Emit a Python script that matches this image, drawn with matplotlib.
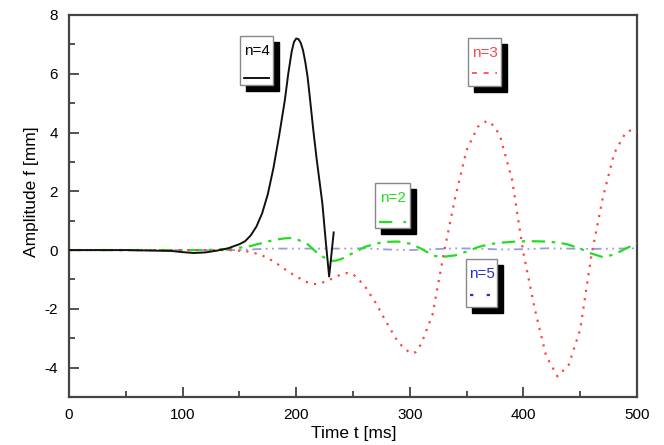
import matplotlib
matplotlib.use("Agg")
import matplotlib.pyplot as plt
from matplotlib.patches import Rectangle
from matplotlib.lines import Line2D
from matplotlib.ticker import MultipleLocator

plt.rcParams['font.family'] = ['Liberation Sans', 'DejaVu Sans']
plt.rcParams['axes.unicode_minus'] = False

# ---- data ----
t4 = [0, 50, 90, 100, 110, 120, 130, 140, 150, 155, 160, 165, 170, 175, 180, 185,
      190, 193, 196, 198, 200, 202, 204, 206, 208, 210, 212, 215, 218, 220, 223,
      226, 229, 233]
f4 = [0, 0, -0.03, -0.07, -0.1, -0.08, -0.02, 0.06, 0.2, 0.3, 0.5, 0.8, 1.25, 1.9,
      2.8, 3.9, 5.1, 6.0, 6.75, 7.08, 7.2, 7.18, 7.05, 6.8, 6.4, 5.9, 5.2, 4.1, 3.1,
      2.5, 1.6, 0.3, -0.9, 0.6]

t3 = [0, 100, 140, 150, 160, 170, 180, 190, 200, 210, 215, 220, 230, 240, 245, 250,
      260, 270, 280, 290, 300, 305, 310, 320, 330, 340, 350, 360, 368, 375, 380,
      390, 400, 410, 420, 430, 440, 450, 460, 470, 480, 490, 496, 500]
f3 = [0, 0, 0, -0.02, -0.06, -0.18, -0.38, -0.65, -0.9, -1.1, -1.16, -1.15, -1.0,
      -0.82, -0.78, -0.82, -1.2, -1.8, -2.5, -3.15, -3.5, -3.48, -3.2, -2.2, -0.1,
      1.8, 3.4, 4.2, 4.4, 4.2, 3.8, 2.4, -0.1, -2.0, -3.6, -4.3, -3.9, -2.7, -0.15,
      1.8, 3.3, 4.0, 4.1, 4.0]

t2 = [0, 100, 120, 130, 140, 150, 160, 170, 180, 190, 195, 200, 210, 220, 230, 235,
      240, 250, 260, 270, 280, 290, 300, 310, 320, 327, 340, 350, 360, 370, 380,
      390, 400, 410, 420, 432, 440, 450, 460, 470, 480, 490, 500]
f2 = [0, 0, 0, 0.02, 0.04, 0.08, 0.14, 0.24, 0.34, 0.4, 0.41, 0.38, 0.2, -0.15,
      -0.37, -0.36, -0.3, -0.1, 0.1, 0.22, 0.28, 0.29, 0.22, 0.05, -0.18, -0.24,
      -0.18, -0.05, 0.1, 0.2, 0.25, 0.28, 0.3, 0.3, 0.29, 0.25, 0.18, 0.05, -0.12,
      -0.24, -0.15, 0.05, 0.23]

t5 = [0, 150, 160, 170, 180, 200, 220, 240, 260, 280, 300, 320, 340, 360, 380,
      400, 420, 440, 460, 480, 500]
f5 = [0, 0, 0.02, 0.04, 0.05, 0.05, 0.05, 0.05, 0.06, 0.02, 0.0, 0.03, 0.06,
      0.05, 0.02, 0.03, 0.06, 0.05, 0.04, 0.05, 0.06]

legend_labels = ["n=4", "n=3", "n=2", "n=5"]

W, H = 664, 445
fig = plt.figure(figsize=(W / 100, H / 100), dpi=100)
L, R, T, B = 69, 637, 15, 397
ax = fig.add_axes([L / W, 1 - B / H, (R - L) / W, (B - T) / H])

c_black = "#111111"
c_red = "#ff4444"
c_green = "#22dd22"
c_blue_line = "#9a9ae0"
c_blue_txt = "#2233cc"

ax.plot(t5, f5, color=c_blue_line, lw=1.3, ls=(0, (5, 2.5, 1, 2.5, 1, 2.5)), zorder=2)
ax.plot(t2, f2, color=c_green, lw=1.6, ls=(0, (6, 3, 1.5, 3)), zorder=3)
ax.plot(t3, f3, color=c_red, lw=1.6, ls=(0, (1, 2.8)), zorder=3)
ax.plot(t4, f4, color=c_black, lw=1.4, zorder=4)

ax.set_xlim(0, 500)
ax.set_ylim(-5, 8)
ax.xaxis.set_major_locator(MultipleLocator(100))
ax.xaxis.set_minor_locator(MultipleLocator(50))
ax.yaxis.set_major_locator(MultipleLocator(2))
ax.yaxis.set_minor_locator(MultipleLocator(1))
ax.tick_params(which="both", direction="in", top=False, right=False,
               color="#333333", width=1.2)
ax.tick_params(which="major", length=7, labelsize=11, pad=8)
ax.tick_params(which="minor", length=4)
for s in ax.spines.values():
    s.set_color("#444444")
    s.set_linewidth(1.6)

ax.set_xlabel("Time t [ms]", fontsize=12.5)
ax.set_ylabel("Amplitude f [mm]", fontsize=12.5)
ax.xaxis.set_label_coords(0.502, -0.076)
ax.yaxis.set_label_coords(-0.052, 0.537)


def fx(px):
    return px / W


def fy(py):
    return 1 - py / H


def legend_box(x0, y0, x1, y1, label, tcolor, lcolor, ls, lw, line_y):
    sh = 6
    fig.add_artist(Rectangle((fx(x0 + sh), fy(y1 + sh)), (x1 - x0) / W, (y1 - y0) / H,
                             transform=fig.transFigure, facecolor="black",
                             edgecolor="black", zorder=10))
    fig.add_artist(Rectangle((fx(x0), fy(y1)), (x1 - x0) / W, (y1 - y0) / H,
                             transform=fig.transFigure, facecolor="white",
                             edgecolor="#888888", lw=1.0, zorder=11))
    fig.text(fx((x0 + x1) / 2), fy(y0 + 15), label, color=tcolor, fontsize=11,
             ha="center", va="center", zorder=12)
    fig.add_artist(Line2D([fx(x0 + 4), fx(x1 - 4)], [fy(line_y), fy(line_y)],
                          transform=fig.transFigure, color=lcolor, ls=ls, lw=lw,
                          zorder=12))


legend_box(240, 36, 273, 85, legend_labels[0], "black", "black", "-", 1.3, 78)
legend_box(468, 38, 501, 86, legend_labels[1], c_red, c_red, (0, (3, 4)), 1.2, 73)
legend_box(375, 183, 410, 228, legend_labels[2], c_green, c_green, (0, (6, 5, 1.5, 5)), 1.6, 222)
legend_box(466, 259, 497, 307, legend_labels[3], c_blue_txt, c_blue_txt, (0, (1.5, 6)), 1.6, 295)

fig.savefig("out.png", dpi=100)
